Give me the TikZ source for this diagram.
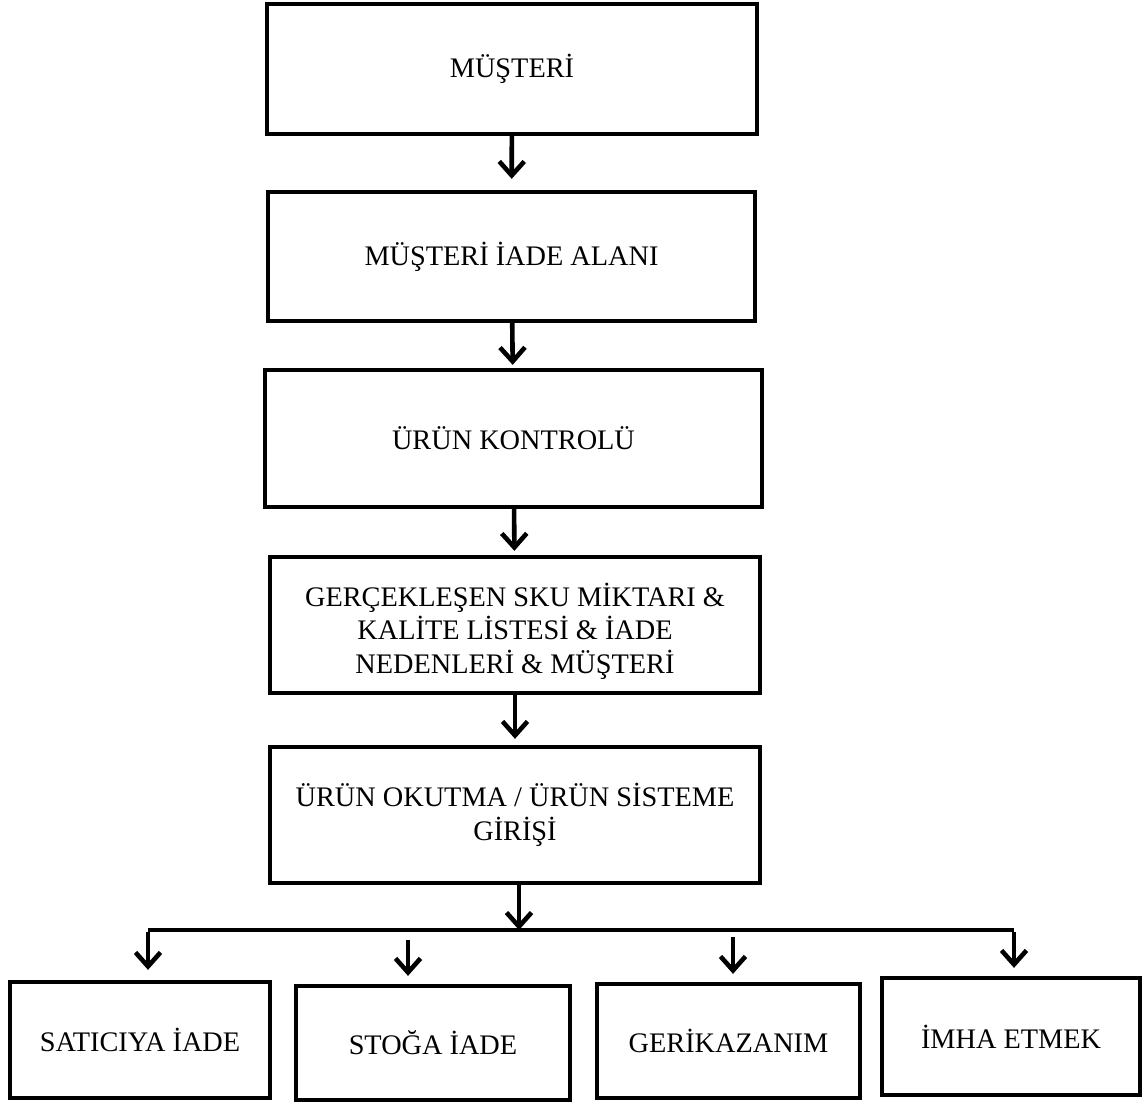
\documentclass[tikz,border=0pt]{standalone}
\usepackage{fontspec}
\setmainfont{Liberation Serif}
\usetikzlibrary{arrows.meta}
\begin{document}
\begin{tikzpicture}[x=1pt,y=-1pt,
  txt/.style={align=center,font=\fontsize{28.3}{33.5}\selectfont},
  box/.style={draw,line width=4.3pt,inner sep=0pt,txt},
  arr/.style={line width=4.6pt,-{Straight Barb[length=14pt,width=25pt]}},
  plain/.style={line width=4.3pt}]
\useasboundingbox (0,0) rectangle (1148,1103);
\node[box,minimum width=490pt,minimum height=130pt] (b1) at (512,69) {MÜŞTERİ};
\node[box,minimum width=487pt,minimum height=129pt] (b2) at (511.5,256.5) {MÜŞTERİ İADE ALANI};
\node[box,minimum width=497pt,minimum height=137pt] (b3) at (513.5,438.5) {ÜRÜN KONTROLÜ};
\node[box,minimum width=490pt,minimum height=136pt,
  label={[txt,yshift=-6pt]center:GERÇEKLEŞEN SKU MİKTARI \&\\KALİTE LİSTESİ \& İADE\\NEDENLERİ \& MÜŞTERİ}] (b4) at (515,625) {};
\node[box,minimum width=490pt,minimum height=136pt] (b5) at (515,815) {ÜRÜN OKUTMA / ÜRÜN SİSTEME\\GİRİŞİ};
\node[box,minimum width=260pt,minimum height=116pt] (bA) at (140,1040) {SATICIYA İADE};
\node[box,minimum width=274pt,minimum height=114pt] (bB) at (433,1043) {STOĞA İADE};
\node[box,minimum width=263pt,minimum height=114pt] (bC) at (728.5,1041) {GERİKAZANIM};
\node[box,minimum width=258pt,minimum height=117pt] (bD) at (1011,1036.5) {İMHA ETMEK};
\draw[arr,shorten >=11pt] (b1) -- (b2);
\draw[arr,shorten >=3pt] (b2) -- (b3);
\draw[arr,shorten >=4pt] (b3) -- (b4);
\draw[arr,shorten >=6pt] (b4) -- (b5);
\coordinate (hl) at (148,930);
\coordinate (hr) at (1014,930);
\coordinate (hm) at (519,930);
\coordinate (s2) at (408,940);
\coordinate (s3) at (733,937);
\draw[plain] (hl) -- (hr);
\draw[arr] ([xshift=4pt]b5.south) -- (hm);
\draw[arr,shorten >=10pt] ([yshift=-2pt]hl) -- (hl |- bA.north);
\draw[arr,shorten >=8pt] (s2) -- (s2 |- bB.north);
\draw[arr,shorten >=8pt] (s3) -- (s3 |- bC.north);
\draw[arr,shorten >=8pt] ([yshift=-2pt]hr) -- (hr |- bD.north);
\end{tikzpicture}
\end{document}
